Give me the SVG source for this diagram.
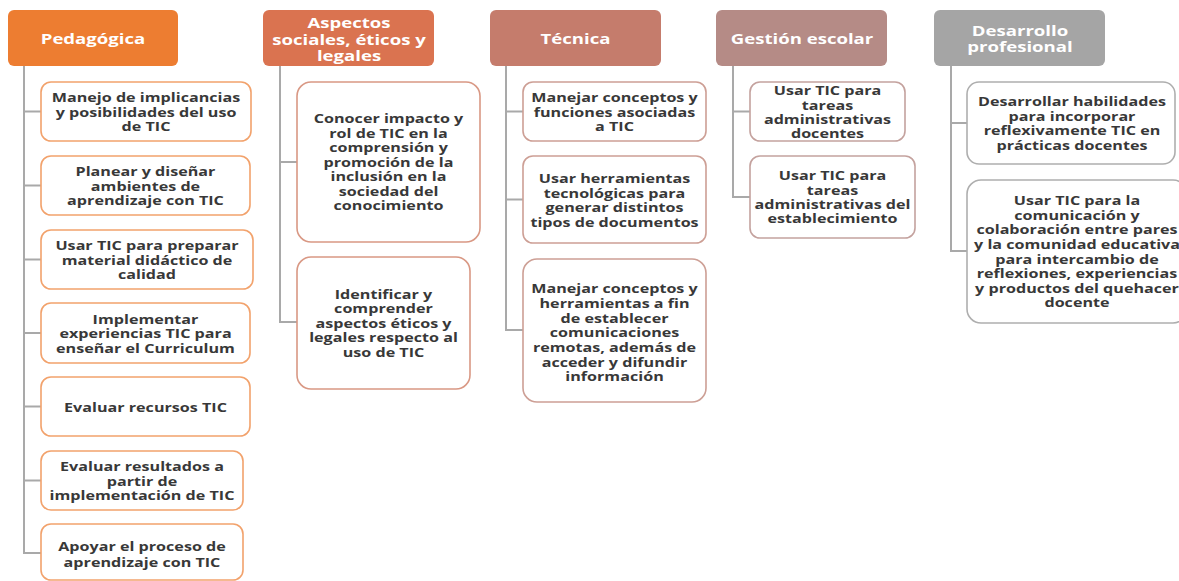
<svg xmlns="http://www.w3.org/2000/svg" width="1179" height="581" viewBox="0 0 1179 581">
  <style>
    .conn { fill: none; stroke: #A9A9A9; stroke-width: 2; }
    .hd { stroke: none; }
    .bx { fill: #FFFFFF; stroke-width: 1.6; }
    .ped .bx { stroke: #F2A26C; }
    .asp .bx { stroke: #D99884; }
    .tec .bx { stroke: #CD9F95; }
    .ges .bx { stroke: #C4A29E; }
    .des .bx { stroke: #AEAEAE; }
    text { font-family: "Open Sans", "Liberation Sans", sans-serif; font-weight: 700; text-anchor: middle; dominant-baseline: central; }
    .t { font-size: 12.6px; fill: #383838; }
    .ht { font-size: 15px; fill: #FFFFFF; }
  </style>

  <!-- connectors: one trunk per category with branches to each item -->
  <g id="connectors">
    <path class="conn" d="M24 66V553H41M24 111.5H41M24 185.5H41M24 259.5H41M24 333H41M24 406.5H41M24 480.5H41"/>
    <path class="conn" d="M280 66V322H297M280 162H297"/>
    <path class="conn" d="M506 66V330H523M506 111.5H523M506 199.5H523"/>
    <path class="conn" d="M733 66V197H750M733 111.5H750"/>
    <path class="conn" d="M951 66V251H967M951 123H967"/>
  </g>

  <!-- category headers -->
  <g id="hdr-pedagogica">
    <rect class="hd" x="8" y="10" width="170" height="56" rx="6" fill="#ED7D31"/>
    <text class="ht" transform="translate(93 0) scale(1.24 1)"><tspan x="0" y="38">Pedagógica</tspan></text>
  </g>
  <g id="hdr-aspectos">
    <rect class="hd" x="263" y="10" width="171" height="56" rx="6" fill="#DA7350"/>
    <text class="ht" transform="translate(349 0) scale(1.24 1)"><tspan x="0" y="22">Aspectos</tspan><tspan x="0" y="38.5">sociales, éticos y</tspan><tspan x="0" y="55">legales</tspan></text>
  </g>
  <g id="hdr-tecnica">
    <rect class="hd" x="490" y="10" width="171" height="56" rx="6" fill="#C57C6C"/>
    <text class="ht" transform="translate(575.5 0) scale(1.24 1)"><tspan x="0" y="38">Técnica</tspan></text>
  </g>
  <g id="hdr-gestion">
    <rect class="hd" x="716" y="10" width="171" height="56" rx="6" fill="#B58B86"/>
    <text class="ht" transform="translate(802 0) scale(1.24 1)"><tspan x="0" y="38">Gestión escolar</tspan></text>
  </g>
  <g id="hdr-desarrollo">
    <rect class="hd" x="934" y="10" width="171" height="56" rx="6" fill="#A5A5A5"/>
    <text class="ht" transform="translate(1020 0) scale(1.24 1)"><tspan x="0" y="30">Desarrollo</tspan><tspan x="0" y="46">profesional</tspan></text>
  </g>

  <!-- Pedagógica items -->
  <g class="ped">
    <g id="ped-1">
      <rect class="bx" x="41" y="82" width="210" height="59" rx="10"/>
      <text class="t" transform="translate(146 0) scale(1.28 1)"><tspan x="0" y="97">Manejo de implicancias</tspan><tspan x="0" y="111.5">y posibilidades del uso</tspan><tspan x="0" y="126">de TIC</tspan></text>
    </g>
    <g id="ped-2">
      <rect class="bx" x="41" y="156" width="209" height="59" rx="10"/>
      <text class="t" transform="translate(145.5 0) scale(1.28 1)"><tspan x="0" y="171">Planear y diseñar</tspan><tspan x="0" y="185.5">ambientes de</tspan><tspan x="0" y="200">aprendizaje  con TIC</tspan></text>
    </g>
    <g id="ped-3">
      <rect class="bx" x="41" y="230" width="212" height="59" rx="10"/>
      <text class="t" transform="translate(147 0) scale(1.28 1)"><tspan x="0" y="245">Usar TIC para preparar</tspan><tspan x="0" y="259.5">material didáctico de</tspan><tspan x="0" y="274">calidad</tspan></text>
    </g>
    <g id="ped-4">
      <rect class="bx" x="41" y="303" width="209" height="60" rx="10"/>
      <text class="t" transform="translate(145.5 0) scale(1.28 1)"><tspan x="0" y="318.5">Implementar</tspan><tspan x="0" y="333">experiencias TIC para</tspan><tspan x="0" y="347.5">enseñar el Curriculum</tspan></text>
    </g>
    <g id="ped-5">
      <rect class="bx" x="41" y="377" width="209" height="59" rx="10"/>
      <text class="t" transform="translate(145.5 0) scale(1.28 1)"><tspan x="0" y="406.5">Evaluar recursos TIC</tspan></text>
    </g>
    <g id="ped-6">
      <rect class="bx" x="41" y="451" width="202" height="59" rx="10"/>
      <text class="t" transform="translate(142 0) scale(1.28 1)"><tspan x="0" y="466">Evaluar resultados a</tspan><tspan x="0" y="480.5">partir de</tspan><tspan x="0" y="495">implementación de TIC</tspan></text>
    </g>
    <g id="ped-7">
      <rect class="bx" x="41" y="524" width="202" height="56" rx="10"/>
      <text class="t" transform="translate(142 0) scale(1.28 1)"><tspan x="0" y="545.5">Apoyar el proceso de</tspan><tspan x="0" y="561.5">aprendizaje con TIC</tspan></text>
    </g>
  </g>

  <!-- Aspectos sociales, éticos y legales items -->
  <g class="asp">
    <g id="asp-1">
      <rect class="bx" x="297" y="82" width="183" height="160" rx="14"/>
      <text class="t" transform="translate(388.5 0) scale(1.28 1)"><tspan x="0" y="118">Conocer impacto y</tspan><tspan x="0" y="132.5">rol de TIC en la</tspan><tspan x="0" y="147">comprensión y</tspan><tspan x="0" y="161.5">promoción de la</tspan><tspan x="0" y="176">inclusión en la</tspan><tspan x="0" y="190.5">sociedad del</tspan><tspan x="0" y="205">conocimiento</tspan></text>
    </g>
    <g id="asp-2">
      <rect class="bx" x="297" y="257" width="173" height="132" rx="14"/>
      <text class="t" transform="translate(383.5 0) scale(1.28 1)"><tspan x="0" y="293.5">Identificar y</tspan><tspan x="0" y="308">comprender</tspan><tspan x="0" y="322.5">aspectos éticos y</tspan><tspan x="0" y="337">legales respecto al</tspan><tspan x="0" y="351.5">uso de TIC</tspan></text>
    </g>
  </g>

  <!-- Técnica items -->
  <g class="tec">
    <g id="tec-1">
      <rect class="bx" x="523" y="82" width="183" height="59" rx="10"/>
      <text class="t" transform="translate(614.5 0) scale(1.28 1)"><tspan x="0" y="97">Manejar conceptos y</tspan><tspan x="0" y="111.5">funciones asociadas</tspan><tspan x="0" y="126">a TIC</tspan></text>
    </g>
    <g id="tec-2">
      <rect class="bx" x="523" y="156" width="183" height="87" rx="10"/>
      <text class="t" transform="translate(614.5 0) scale(1.28 1)"><tspan x="0" y="178">Usar herramientas</tspan><tspan x="0" y="192.5">tecnológicas para</tspan><tspan x="0" y="207">generar distintos</tspan><tspan x="0" y="221.5">tipos de documentos</tspan></text>
    </g>
    <g id="tec-3">
      <rect class="bx" x="523" y="259" width="183" height="143" rx="14"/>
      <text class="t" transform="translate(614.5 0) scale(1.28 1)"><tspan x="0" y="288">Manejar conceptos y</tspan><tspan x="0" y="302.7">herramientas a fin</tspan><tspan x="0" y="317.4">de establecer</tspan><tspan x="0" y="332">comunicaciones</tspan><tspan x="0" y="346.7">remotas, además de</tspan><tspan x="0" y="361.4">acceder y difundir</tspan><tspan x="0" y="376">información</tspan></text>
    </g>
  </g>

  <!-- Gestión escolar items -->
  <g class="ges">
    <g id="ges-1">
      <rect class="bx" x="750" y="82" width="155" height="59" rx="10"/>
      <text class="t" transform="translate(827.5 0) scale(1.28 1)"><tspan x="0" y="90">Usar TIC para</tspan><tspan x="0" y="104.3">tareas</tspan><tspan x="0" y="118.6">administrativas</tspan><tspan x="0" y="133">docentes</tspan></text>
    </g>
    <g id="ges-2">
      <rect class="bx" x="750" y="156" width="165" height="82" rx="10"/>
      <text class="t" transform="translate(832.5 0) scale(1.28 1)"><tspan x="0" y="175">Usar TIC para</tspan><tspan x="0" y="189.3">tareas</tspan><tspan x="0" y="203.6">administrativas del</tspan><tspan x="0" y="218">establecimiento</tspan></text>
    </g>
  </g>

  <!-- Desarrollo profesional items -->
  <g class="des">
    <g id="des-1">
      <rect class="bx" x="967" y="82" width="208" height="82" rx="12"/>
      <text class="t" transform="translate(1072 0) scale(1.28 1)"><tspan x="0" y="101">Desarrollar habilidades</tspan><tspan x="0" y="115.5">para incorporar</tspan><tspan x="0" y="130">reflexivamente TIC en</tspan><tspan x="0" y="144.5">prácticas docentes</tspan></text>
    </g>
    <g id="des-2">
      <rect class="bx" x="967" y="180" width="220" height="143" rx="14"/>
      <text class="t" transform="translate(1077 0) scale(1.28 1)"><tspan x="0" y="200">Usar TIC para la</tspan><tspan x="0" y="214.6">comunicación y</tspan><tspan x="0" y="229.2">colaboración entre pares</tspan><tspan x="0" y="243.8">y la comunidad educativa</tspan><tspan x="0" y="258.4">para intercambio de</tspan><tspan x="0" y="273">reflexiones, experiencias</tspan><tspan x="0" y="287.6">y productos del quehacer</tspan><tspan x="0" y="302.2">docente</tspan></text>
    </g>
  </g>
</svg>
